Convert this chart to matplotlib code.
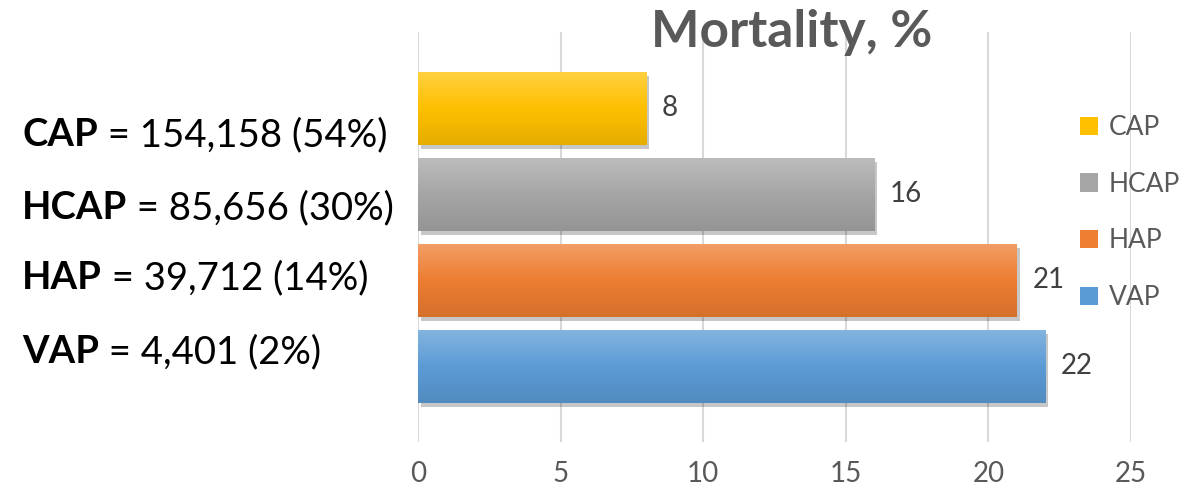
import numpy as np
import matplotlib
matplotlib.use("Agg")
import matplotlib.pyplot as plt
from matplotlib.patches import Patch
import matplotlib.patheffects as pe
from matplotlib.colors import to_rgb

categories = ["CAP", "HCAP", "HAP", "VAP"]
mortality = [8, 16, 21, 22]
counts = ["154,158", "85,656", "39,712", "4,401"]
shares = ["54%", "30%", "14%", "2%"]
colors = ["#FFC000", "#A5A5A5", "#ED7D31", "#5B9BD5"]
xticks = [0, 5, 10, 15, 20, 25]

plt.rcParams['font.family'] = ['Lato', 'DejaVu Sans']

W, H = 1201, 497
fig = plt.figure(figsize=(W / 100, H / 100), dpi=100)
ax = fig.add_axes([418 / W, (H - 442) / H, 713 / W, 410 / H])

ypos = np.arange(len(categories))[::-1]  # CAP at top
bars = ax.barh(ypos, mortality, height=0.85, color=colors, zorder=3)

def grad_img(c):
    base = np.array(to_rgb(c))
    light = base + (1 - base) * 0.25
    dark = base * 0.9
    n = 64
    t = np.linspace(0, 1, n)[:, None]
    top = light + (base - light) * np.clip(t * 2, 0, 1)
    bot = base + (dark - base) * np.clip(t * 2 - 1, 0, 1)
    img = np.where(t < 0.5, top, bot)
    return img[:, None, :]

for b, c in zip(bars, colors):
    b.set_path_effects([pe.SimplePatchShadow(offset=(2, -3), shadow_rgbFace='#000000', alpha=0.22), pe.Normal()])
    x0, y0 = b.get_x(), b.get_y()
    w, h = b.get_width(), b.get_height()
    im = ax.imshow(grad_img(c), extent=[x0, x0 + w, y0, y0 + h], origin='upper',
                   aspect='auto', zorder=4, interpolation='bilinear')
    im.set_clip_path(b)

for y, v in zip(ypos, mortality):
    ax.text(v + 0.55, y, str(v), va='center', ha='left', fontsize=20, color='#404040', zorder=5)

ax.set_xlim(0, 25)
ax.set_ylim(-0.885, 3.89)
ax.set_xticks(xticks)
ax.set_yticks([])
ax.grid(axis='x', color='#D9D9D9', linewidth=1.5, zorder=0)
ax.tick_params(axis='x', length=0, labelsize=20, labelcolor='#595959', pad=14)
for s in ax.spines.values():
    s.set_visible(False)

fig.text(792 / W, 1 - 33 / H, "Mortality, %", ha='center', va='center', fontsize=37,
         fontweight='bold', color='#595959')

label_y = [135, 208, 278, 352]
for ly, cat, cnt, sh in zip(label_y, categories, counts, shares):
    t1 = fig.text(22 / W, 1 - ly / H, cat, ha='left', va='center', fontsize=27.5,
                  fontweight='bold', color='black')
    fig.canvas.draw()
    bb = t1.get_window_extent()
    fig.text(bb.x1 / W, 1 - ly / H, f" = {cnt} ({sh})", ha='left', va='center',
             fontsize=27.5, color='black')

handles = [Patch(facecolor=c) for c in colors]
fig.legend(handles, categories, loc='upper left', bbox_to_anchor=(1080 / W, 1 - 115 / H),
           frameon=False, fontsize=19, labelcolor='#595959', handlelength=0.7,
           handleheight=0.7, handletextpad=0.4, labelspacing=1.2, borderpad=0,
           borderaxespad=0)

fig.savefig("out.png", dpi=100)
